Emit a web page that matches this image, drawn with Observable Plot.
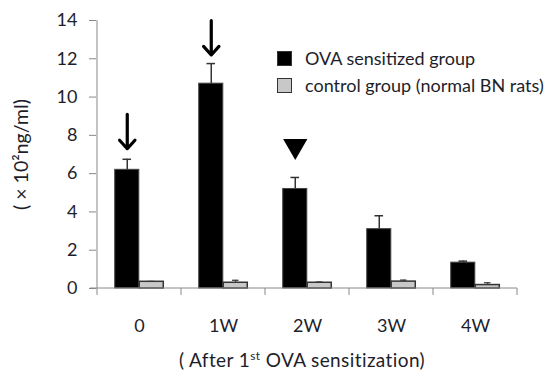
<!DOCTYPE html>
<html><head><meta charset="utf-8">
<script src="https://cdn.jsdelivr.net/npm/d3@7"></script>
<script src="https://cdn.jsdelivr.net/npm/@observablehq/plot@0.6"></script>
<style>
body{margin:0;background:#fff;font-family:Lato,sans-serif;color:#1e1e2a}
#wrap{position:relative;width:554px;height:374px;overflow:hidden}
#wrap svg [aria-label^="y-axis"] path,#wrap svg [aria-label^="y-axis"] line{stroke:#888}
#wrap svg [aria-label="y-axis label"] text{font-size:19.5px}
.leg{position:absolute;left:277px;display:flex;align-items:center;font-size:18px;white-space:nowrap;line-height:20px}
.sw{width:13px;height:13px;border:1.5px solid #333;margin-right:13px;flex:none}
#xtitle{position:absolute;top:349px;left:25px;width:554px;text-align:center;font-size:19px;letter-spacing:0.4px;line-height:1.2}
#xtitle sup{font-size:12px;vertical-align:7px;line-height:0}
</style></head><body><div id="wrap"></div><script>
const categories = ["0", "1W", "2W", "3W", "4W"];
const seriesNames = ["OVA sensitized group", "control group (normal BN rats)"];
const seriesColors = ["#000000", "#c8c8c8"];
const ovaValues = [6.2, 10.7, 5.2, 3.1, 1.35];
const ovaErrors = [0.55, 1.05, 0.6, 0.7, 0.08];
const controlValues = [0.35, 0.3, 0.3, 0.36, 0.18];
const controlErrors = [0.02, 0.13, 0.04, 0.08, 0.12];
const yTicks = [0, 2, 4, 6, 8, 10, 12, 14];
const arrowCats = ["0", "1W"];
const arrowFrom = [9.1, 14.0];
const arrowTo = [7.3, 12.2];
const triangleCats = ["2W"];
const triangleY = [7.45];
const yLabel = "( \u00d7 10\u00b2ng/ml)";
const xTitle = "( After 1<sup>st</sup> OVA sensitization)";

const ova = categories.map((c, i) => ({cat: c, value: ovaValues[i], err: ovaErrors[i]}));
const ctrl = categories.map((c, i) => ({cat: c, value: controlValues[i], err: controlErrors[i]}));
const arrows = arrowCats.map((c, i) => ({cat: c, y1: arrowFrom[i], y2: arrowTo[i]}));
const tris = triangleCats.map((c, i) => ({cat: c, y: triangleY[i]}));

const W = 554, H = 340, mL = 96, mR = 36, mT = 20, mB = 52;
const bw = (W - mL - mR) / categories.length;
const barW = bw * 0.29;
const outer = (bw - 2 * barW) / 2;
const capO = 4.5, capC = 3.5;

const axisDeco = (index, scales) => {
  const {x, y} = scales;
  const g = d3.create("svg:g").attr("stroke", "#888").attr("fill", "none");
  const y0 = y(0), yTop = y(d3.max(yTicks));
  const xs = categories.map(c => x(c));
  const xEnd = x(categories[categories.length - 1]) + x.bandwidth();
  g.append("line").attr("x1", xs[0]).attr("x2", xs[0]).attr("y1", yTop).attr("y2", y0);
  g.append("line").attr("x1", xs[0] - 7).attr("x2", xEnd).attr("y1", y0).attr("y2", y0);
  for (const xx of [...xs, xEnd]) g.append("line").attr("x1", xx).attr("x2", xx).attr("y1", y0).attr("y2", y0 + 7);
  return g.node();
};

const chart = Plot.plot({
  width: W, height: H, marginLeft: mL, marginRight: mR, marginTop: mT, marginBottom: mB,
  style: {fontFamily: "Lato, sans-serif", fontSize: "18px", color: "#1e1e2a", background: "#fff"},
  x: {type: "band", domain: categories, padding: 0, tickSize: 0, tickPadding: 31, label: null},
  y: {domain: [0, 14], ticks: yTicks, tickSize: 7, tickPadding: 12, label: yLabel, labelAnchor: "center", labelOffset: 82, labelArrow: "none"},
  marks: [
    Plot.barY(ova, {x: "cat", y: "value", fill: seriesColors[0], stroke: "#444", strokeWidth: 1, insetLeft: outer, insetRight: outer + barW}),
    Plot.barY(ctrl, {x: "cat", y: "value", fill: seriesColors[1], stroke: "#333", strokeWidth: 1.5, insetLeft: outer + barW, insetRight: outer}),
    Plot.ruleX(ova, {x: "cat", y1: "value", y2: d => d.value + d.err, dx: -barW / 2, stroke: "#333", strokeWidth: 1.5}),
    Plot.tickY(ova, {x: "cat", y: d => d.value + d.err, insetLeft: outer + barW / 2 - capO, insetRight: bw - outer - barW / 2 - capO, stroke: "#333", strokeWidth: 1.5}),
    Plot.ruleX(ctrl, {x: "cat", y1: "value", y2: d => d.value + d.err, dx: barW / 2, stroke: "#333", strokeWidth: 1}),
    Plot.tickY(ctrl, {x: "cat", y: d => d.value + d.err, insetLeft: bw / 2 + barW / 2 - capC, insetRight: bw / 2 - barW / 2 - capC, stroke: "#333", strokeWidth: 1.2}),
    Plot.arrow(arrows, {x1: "cat", x2: "cat", y1: "y1", y2: "y2", dx: -barW / 2, stroke: "#000", strokeWidth: 3.2, headLength: 14, headAngle: 84}),
    Plot.dot(tris, {x: "cat", y: "y", dx: -barW / 2, symbol: "triangle", rotate: 180, r: 9, fill: "#000", stroke: "none"}),
    axisDeco
  ]
});
const wrap = document.getElementById("wrap");
wrap.appendChild(chart);
seriesNames.forEach((name, i) => {
  const d = document.createElement("div");
  d.className = "leg";
  d.style.top = (48 + i * 27) + "px";
  d.innerHTML = `<span class="sw" style="background:${seriesColors[i]}"></span><span>${name}</span>`;
  wrap.appendChild(d);
});
const t = document.createElement("div");
t.id = "xtitle";
t.innerHTML = xTitle;
wrap.appendChild(t);
</script></body></html>
